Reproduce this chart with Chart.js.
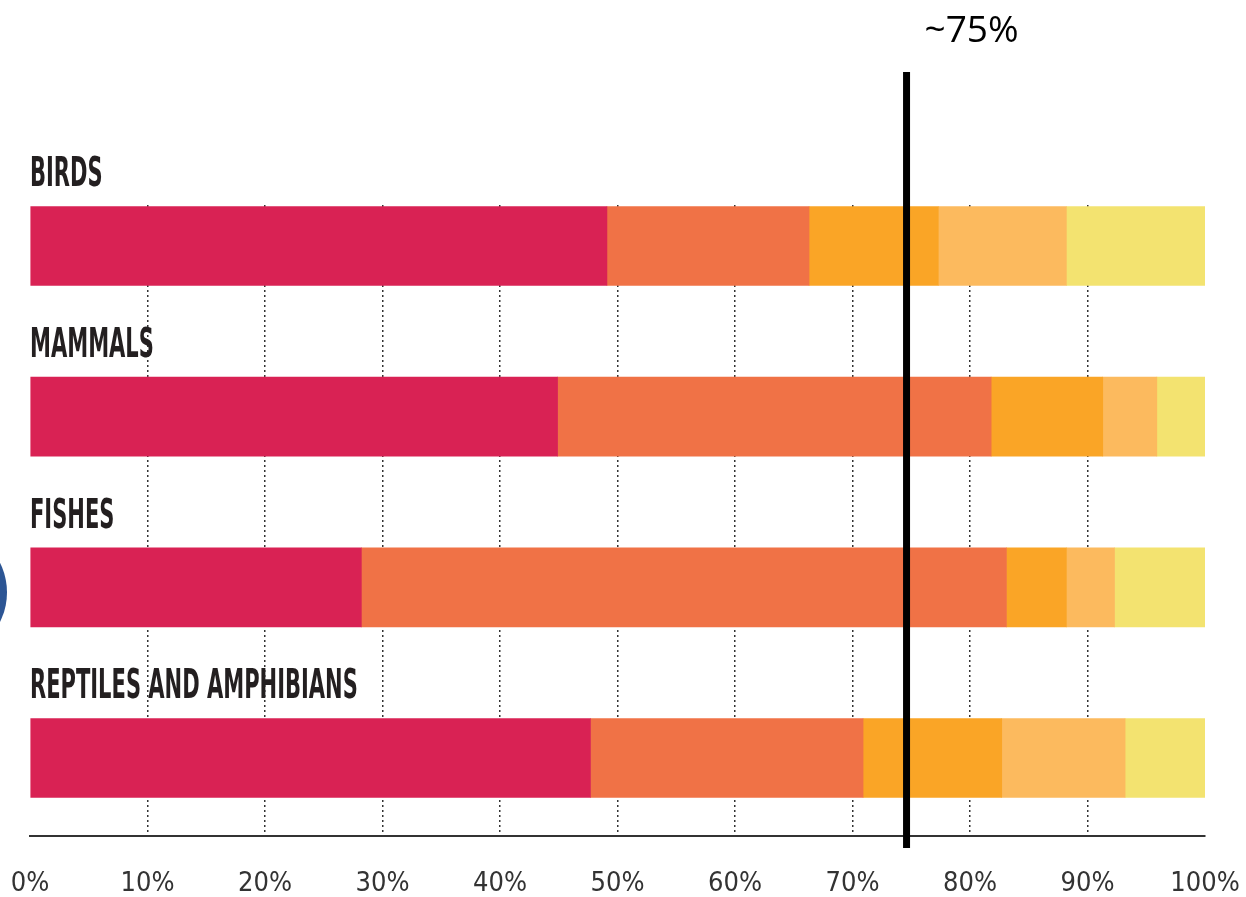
<!DOCTYPE html>
<html>
<head>
<meta charset="utf-8">
<script src="https://cdn.jsdelivr.net/npm/chart.js@4/dist/chart.umd.min.js"></script>
<style>
  html, body { margin: 0; padding: 0; background: #fff; }
  #wrap { width: 1246px; height: 897px; position: relative; }
</style>
</head>
<body>
<div id="wrap"><canvas id="shareChart"></canvas></div>
<script>
// ---- Data (percent of species per group) ----
const groups    = ['BIRDS', 'MAMMALS', 'FISHES', 'REPTILES AND AMPHIBIANS'];
const segment1  = [49.1, 44.9, 28.2, 47.7];
const segment2  = [17.2, 36.9, 54.9, 23.2];
const segment3  = [11.0,  9.5,  5.1, 11.8];
const segment4  = [10.9,  4.6,  4.1, 10.5];
const segment5  = [11.8,  4.1,  7.7,  6.8];
const xTicks    = [0, 10, 20, 30, 40, 50, 60, 70, 80, 90, 100];
const markerValue = 74.6;
const markerLabel = '~75%';

const COLORS = ['#d92254', '#f07246', '#faa526', '#fcba5e', '#f3e370'];
const BAR_H  = 79;
const LABEL_SCALE_X = 0.57;   // squeeze the group titles into a condensed look

const series = [segment1, segment2, segment3, segment4, segment5];
const datasets = series.map((vals, s) => ({
  data: vals.map((v, i) => ({ x: v, y: i })),
  backgroundColor: COLORS[s],
  borderWidth: 0,
  barThickness: BAR_H
}));

// group titles sit above each bar, left aligned with the bar start
const groupTitles = {
  id: 'groupTitles',
  afterDatasetsDraw(chart) {
    const { ctx, scales: { x, y } } = chart;
    ctx.save();
    ctx.fillStyle = '#231f20';
    ctx.font = "bold 41px 'DejaVu Sans Condensed', 'DejaVu Sans'";
    ctx.textBaseline = 'alphabetic';
    groups.forEach((g, i) => {
      const top = y.getPixelForValue(i) - BAR_H / 2;
      ctx.save();
      ctx.translate(x.getPixelForValue(0), top - 20);
      ctx.scale(LABEL_SCALE_X, 1);
      ctx.fillText(g, 0, 0);
      ctx.restore();
    });
    ctx.restore();
  }
};

// thick vertical reference line with its label
const marker = {
  id: 'marker',
  afterDraw(chart) {
    const { ctx, chartArea, scales: { x } } = chart;
    const px = x.getPixelForValue(markerValue);
    ctx.save();
    ctx.strokeStyle = '#000';
    ctx.lineWidth = 7;
    ctx.beginPath();
    ctx.moveTo(px, chartArea.top - 133);
    ctx.lineTo(px, chartArea.bottom + 12);
    ctx.stroke();
    ctx.fillStyle = '#000';
    ctx.font = "37px 'Open Sans', 'Noto Sans'";
    ctx.textBaseline = 'alphabetic';
    ctx.fillText(markerLabel, px + 18, chartArea.top - 163);
    ctx.restore();
  }
};

// round badge peeking in from the left edge
const badge = {
  id: 'badge',
  afterDraw(chart) {
    const { ctx, scales: { y } } = chart;
    ctx.save();
    ctx.fillStyle = '#2c5594';
    ctx.beginPath();
    ctx.arc(-59, y.getPixelForValue(2) + 5, 66, 0, Math.PI * 2);
    ctx.fill();
    ctx.restore();
  }
};

new Chart(document.getElementById('shareChart'), {
  type: 'bar',
  data: { datasets },
  options: {
    indexAxis: 'y',
    responsive: true,
    maintainAspectRatio: false,
    animation: false,
    layout: { padding: { left: 30, right: 41, top: 205, bottom: 0 } },
    plugins: { legend: { display: false }, tooltip: { enabled: false } },
    scales: {
      x: {
        type: 'linear',
        stacked: true,
        min: 0,
        max: 100,
        afterBuildTicks: axis => { axis.ticks = xTicks.map(v => ({ value: v })); },
        afterFit: axis => {
          // labels may hang past the plot edges; keep the plot width fixed
          axis.height = 61;
          axis.paddingLeft = 0;
          axis.paddingRight = 0;
        },
        border: { display: true, color: '#333', width: 2, dash: [2, 3] },
        grid: {
          drawTicks: false,
          lineWidth: 1.5,
          color: c => (c.tick && (c.tick.value === 0 || c.tick.value === 100)) ? 'rgba(0,0,0,0)' : '#333'
        },
        ticks: {
          padding: 32,
          color: '#333',
          font: { family: "'Liberation Sans Narrow', 'DejaVu Sans Condensed'", size: 27 },
          callback: v => v + '%'
        }
      },
      y: {
        type: 'linear',
        stacked: true,
        reverse: true,
        offset: false,
        min: -0.24,
        max: 3.457,
        display: false
      }
    }
  },
  plugins: [groupTitles, marker, badge]
});
</script>
</body>
</html>
